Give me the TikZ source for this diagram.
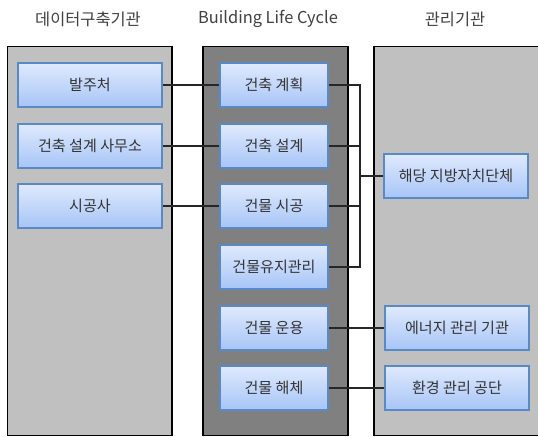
\documentclass[tikz,border=0pt]{standalone}
\usepackage{fontspec}
\setmainfont{Noto Sans CJK KR}
\usetikzlibrary{shadows}
\definecolor{panelgray}{HTML}{C0C0C0}
\definecolor{paneldark}{HTML}{808080}
\definecolor{boxtop}{HTML}{DFE9FD}
\definecolor{boxbot}{HTML}{A7C5F7}
\definecolor{boxedge}{HTML}{5A8AC6}
\tikzset{
  panel/.style={draw=black, line width=1.2pt, fill=panelgray},
  darkpanel/.style={panel, fill=paneldark},
  boxnode/.style={draw=boxedge, line width=1.3pt, top color=boxtop, bottom color=boxbot,
    minimum height=44*0.75pt, inner sep=0pt, font=\fontsize{11.3pt}{13pt}\selectfont, text=black!80,
    drop shadow={shadow xshift=1pt, shadow yshift=-1pt, opacity=0.35, fill=black!60}},
  leftbox/.style={boxnode, minimum width=144*0.75pt},
  midbox/.style={boxnode, minimum width=108*0.75pt},
  rightbox/.style={boxnode, minimum width=144*0.75pt},
  link/.style={draw=black!85, line width=0.9pt},
  title/.style={font=\fontsize{12.3pt}{14pt}\selectfont, text=black!75}
}
\begin{document}
\begin{tikzpicture}[x=0.75pt, y=-0.75pt]
\useasboundingbox (0,0) rectangle (538,436);
% panels
\path[panel] (7.5,46.5) rectangle (172,435.5);
\path[darkpanel] (203,46.5) rectangle (348,435.5);
\path[panel] (374,46.5) rectangle (545,435.5);
% titles
\node[title] (t1) at (88,19) {데이터구축기관};
\node[title] (t2) at (268,19) {Building Life Cycle};
\node[title] (t3) at (455,19) {관리기관};
% left boxes
\node[leftbox] (l1) at (90,85) {발주처};
\node[leftbox] (l2) at (90,146) {건축 설계 사무소};
\node[leftbox] (l3) at (90,206) {시공사};
% middle boxes
\node[midbox] (m1) at (274,85) {건축 계획};
\node[midbox] (m2) at (274,146) {건축 설계};
\node[midbox] (m3) at (274,206) {건물 시공};
\node[midbox] (m4) at (274,267) {건물유지관리};
\node[midbox] (m5) at (274,328) {건물 운용};
\node[midbox] (m6) at (274,388) {건물 해체};
% right boxes
\node[rightbox] (r1) at (456,176) {해당 지방자치단체};
\node[rightbox] (r2) at (457,328) {에너지 관리 기관};
\node[rightbox] (r3) at (457,388) {환경 관리 공단};
% connectors left-middle
\draw[link] (l1.east) -- (m1.west);
\draw[link] (l2.east) -- (m2.west);
\draw[link] (l3.east) -- (m3.west);
% bus
\coordinate (bt) at (360,85);
\coordinate (bb) at (360,267);
\coordinate (bm) at (360,176);
\draw[link] (m1.east) -- (bt) -- (bb) -- (m4.east);
\draw[link] (m2.east) -- (m2.east -| bt);
\draw[link] (m3.east) -- (m3.east -| bt);
\draw[link] (bm) -- (r1.west);
\draw[link] (m5.east) -- (r2.west);
\draw[link] (m6.east) -- (r3.west);
\end{tikzpicture}
\end{document}
